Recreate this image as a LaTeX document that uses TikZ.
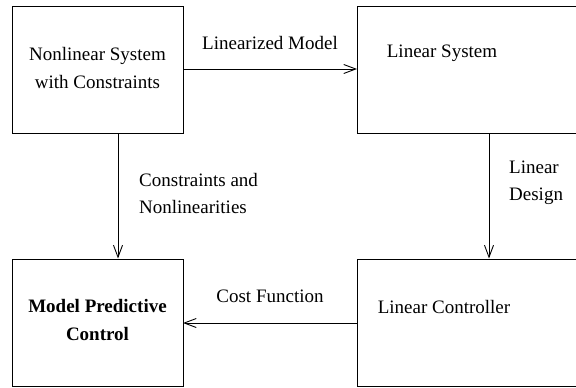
\documentclass[tikz,border=0pt]{standalone}
\usepackage{fontspec}
\setmainfont{Liberation Serif}
\usetikzlibrary{arrows.meta}
\begin{document}
\begin{tikzpicture}[x=1pt,y=-1pt,
  box/.style={draw,line width=0.9pt,rectangle,inner sep=0pt},
  txt/.style={font=\fontsize{19}{28}\selectfont,align=center,inner sep=0pt},
  lbl/.style={font=\fontsize{19}{27}\selectfont,align=left,inner sep=0pt},
  conn/.style={line width=0.9pt,-{Straight Barb[length=12pt,width=9pt,line width=0.9pt]}}]
\useasboundingbox (0,0) rectangle (576,388);
% boxes
\node[box,minimum width=171pt,minimum height=127pt] (nl) at (97.5,70) {};
\node[box,minimum width=240pt,minimum height=127pt] (ls) at (477,70) {};
\node[box,minimum width=171pt,minimum height=127pt] (mpc) at (97.5,322.5) {};
\node[box,minimum width=240pt,minimum height=127pt] (lc) at (477,322.5) {};
% box texts
\node[txt] (nlt) at (97.5,68) {Nonlinear System\\with Constraints};
\node[txt] (lst) at (442,53) {Linear System};
\node[txt,font=\fontsize{19}{28}\selectfont\bfseries] (mpct) at (97.5,320) {Model Predictive\\Control};
\node[txt] (lct) at (444,307) {Linear Controller};
% connectors
\coordinate (a1) at (183,69);
\coordinate (a2) at (357,69);
\draw[conn] (a1) -- (a2);
\coordinate (b1) at (357,323);
\coordinate (b2) at (183,323);
\draw[conn] (b1) -- (b2);
\coordinate (c1) at (118,133.5);
\coordinate (c2) at (118,258.5);
\draw[conn] (c1) -- (c2);
\coordinate (d1) at (489,133.5);
\coordinate (d2) at (489,258.5);
\draw[conn] (d1) -- (d2);
% labels
\node[txt] (l1) at (270,43) {Linearized Model};
\node[txt] (l2) at (270,296) {Cost Function};
\node[lbl,anchor=west] (l3) at (139,193) {Constraints and\\Nonlinearities};
\node[lbl,anchor=west] (l4) at (509,183) {Linear\\Design};
\end{tikzpicture}
\end{document}
